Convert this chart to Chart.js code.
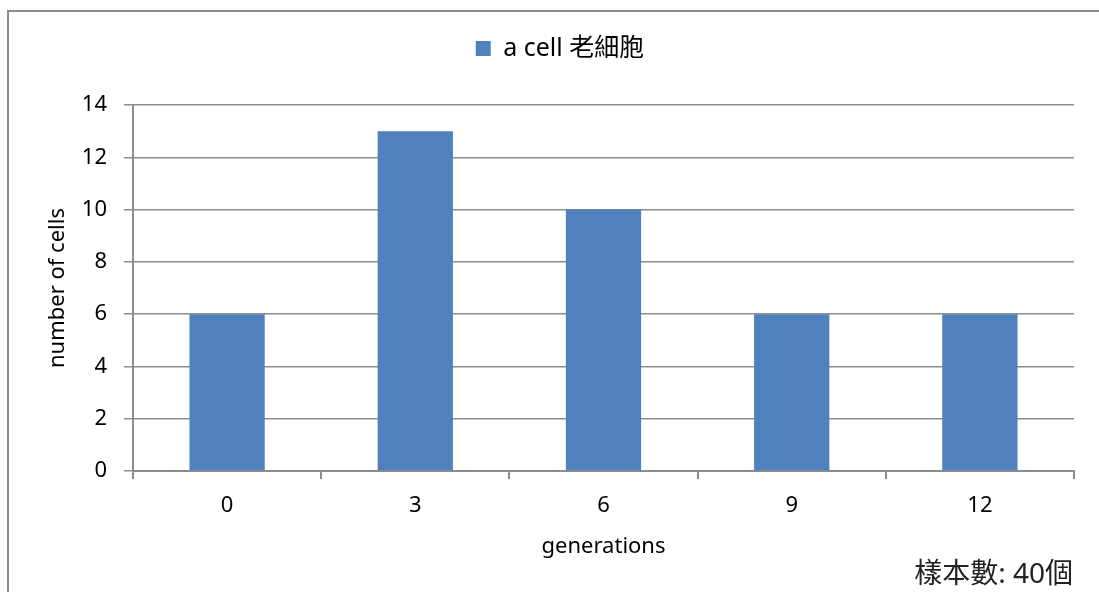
<!DOCTYPE html>
<html>
<head>
<meta charset="UTF-8">
<title>a cell</title>
<script src="https://cdn.jsdelivr.net/npm/chart.js"></script>
<style>
  html, body { margin: 0; padding: 0; background: #fff; }
  #box { width: 1099px; height: 592px; }
</style>
</head>
<body>
<div id="box"><canvas id="c"></canvas></div>
<script>
// data
const generations = ['0', '3', '6', '9', '12'];
const cellCounts = [6, 13, 10, 6, 6];
const seriesName = 'a cell 老細胞';
const sampleNote = '樣本數: 40個';

const fontFam = '"Noto Sans", "Noto Sans CJK TC", sans-serif';
const gray = '#8c8c8c';

// outer frame (left + top only) and the sample-size note
const decor = {
  id: 'decor',
  afterDraw(chart) {
    const ctx = chart.ctx;
    ctx.save();
    ctx.strokeStyle = gray;
    ctx.lineWidth = 2;
    ctx.beginPath();
    ctx.moveTo(8, 592);
    ctx.lineTo(8, 11);
    ctx.lineTo(1099, 11);
    ctx.stroke();
    ctx.fillStyle = '#222';
    ctx.font = '28px ' + fontFam;
    ctx.textAlign = 'right';
    ctx.textBaseline = 'middle';
    ctx.fillText(sampleNote, 1073, 575);
    ctx.restore();
  }
};

new Chart(document.getElementById('c'), {
  type: 'bar',
  data: {
    labels: generations,
    datasets: [{
      label: seriesName,
      data: cellCounts,
      backgroundColor: '#4f81bd',
      borderWidth: 0,
      barPercentage: 0.4,
      categoryPercentage: 1
    }]
  },
  options: {
    responsive: true,
    maintainAspectRatio: false,
    animation: false,
    layout: { padding: { left: 46, right: 25, top: 10, bottom: 0 } },
    plugins: {
      legend: {
        labels: {
          boxWidth: 15,
          boxHeight: 15,
          color: '#000',
          font: { family: fontFam, size: 25 },
          padding: 26
        }
      },
      // blank spacer between legend and plot area
      subtitle: {
        display: true,
        text: ' ',
        weight: 500,
        font: { size: 10, lineHeight: 1 },
        padding: { top: 0, bottom: 24 }
      },
      tooltip: { enabled: false }
    },
    scales: {
      x: {
        grid: {
          offset: true,
          drawOnChartArea: false,
          drawTicks: true,
          tickLength: 8,
          color: gray,
          lineWidth: 2
        },
        border: { color: gray, width: 2 },
        ticks: { color: '#000', font: { family: fontFam, size: 22 }, padding: 14 },
        title: {
          display: true,
          text: 'generations',
          color: '#000',
          font: { family: fontFam, size: 22 },
          padding: { top: 10, bottom: 32 }
        },
        afterFit(s) { s.height = 121; }
      },
      y: {
        min: 0,
        max: 14,
        ticks: { stepSize: 2, color: '#000', font: { family: fontFam, size: 22 }, padding: 17 },
        grid: { color: gray, lineWidth: 1.5, tickLength: 9 },
        border: { color: gray, width: 2 },
        title: {
          display: true,
          text: 'number of cells',
          color: '#000',
          font: { family: fontFam, size: 22, lineHeight: 1 },
          padding: { top: 1, bottom: 0 }
        },
        afterFit(s) { s.width = 87; }
      }
    }
  },
  plugins: [decor]
});
</script>
</body>
</html>
